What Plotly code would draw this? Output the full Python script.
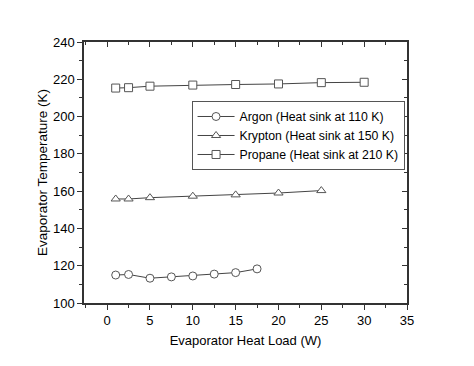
import plotly.graph_objects as go

argon_x = [1, 2.5, 5, 7.5, 10, 12.5, 15, 17.5]
argon_y = [115.0, 115.3, 113.3, 114.0, 114.5, 115.5, 116.3, 118.3]
krypton_x = [1, 2.5, 5, 10, 15, 20, 25]
krypton_y = [155.8, 155.8, 156.5, 157.3, 158.0, 159.0, 160.3]
propane_x = [1, 2.5, 5, 10, 15, 20, 25, 30]
propane_y = [215.3, 215.5, 216.3, 216.9, 217.2, 217.5, 218.2, 218.4]

names = ["Argon (Heat sink at 110 K)", "Krypton (Heat sink at 150 K)", "Propane (Heat sink at 210 K)"]
symbols = ["circle", "triangle-up", "square"]

fig = go.Figure()
for xs, ys, nm, sym in zip([argon_x, krypton_x, propane_x], [argon_y, krypton_y, propane_y], names, symbols):
    fig.add_trace(go.Scatter(
        x=xs, y=ys, name=nm, mode="lines+markers",
        line=dict(color="#444444", width=1),
        marker=dict(symbol=sym, size=8, color="white",
                    line=dict(color="#555555", width=1)),
    ))

axcol = "#333333"
fig.update_layout(
    width=474, height=366,
    margin=dict(l=84, r=67, t=42, b=63),
    paper_bgcolor="white", plot_bgcolor="white",
    font=dict(family="Liberation Sans, Arial", size=12, color="black"),
    showlegend=True,
    legend=dict(x=0.333, y=0.774, xanchor="left", yanchor="top",
                bgcolor="white", bordercolor="#555555", borderwidth=1,
                font=dict(size=12.3), tracegroupgap=0, itemwidth=37),
    xaxis=dict(range=[-2.7, 35], tickvals=[0, 5, 10, 15, 20, 25, 30, 35],
               ticks="outside", ticklen=5, tickwidth=1, tickcolor=axcol,
               minor=dict(dtick=2.5, tick0=0, ticks="outside", ticklen=3, tickcolor=axcol),
               showline=True, linecolor=axcol, linewidth=1.5, mirror=True,
               showgrid=False, zeroline=False, tickfont=dict(size=13),
               title=dict(text="Evaporator Heat Load (W)", standoff=9, font=dict(size=13))),
    yaxis=dict(range=[100, 240], tickvals=[100, 120, 140, 160, 180, 200, 220, 240],
               ticks="outside", ticklen=5, tickwidth=1, tickcolor=axcol,
               minor=dict(dtick=10, tick0=100, ticks="outside", ticklen=3, tickcolor=axcol),
               showline=True, linecolor=axcol, linewidth=1.5, mirror=True,
               showgrid=False, zeroline=False, tickfont=dict(size=13),
               title=dict(text="Evaporator Temperature (K)", standoff=2, font=dict(size=13.5))),
    xaxis2=dict(overlaying="x", side="top", matches="x", range=[-2.7, 35],
                tickvals=[0, 5, 10, 15, 20, 25, 30, 35], ticks="inside", ticklen=5,
                tickcolor=axcol, showticklabels=False, showgrid=False, zeroline=False,
                minor=dict(dtick=2.5, tick0=0, ticks="inside", ticklen=3, tickcolor=axcol)),
    yaxis2=dict(overlaying="y", side="right", range=[100, 240],
                tickvals=[100, 120, 140, 160, 180, 200, 220, 240], ticks="inside", ticklen=5,
                tickcolor=axcol, showticklabels=False, showgrid=False, zeroline=False,
                minor=dict(dtick=10, tick0=100, ticks="inside", ticklen=3, tickcolor=axcol)),
)
fig.add_trace(go.Scatter(x=[None], y=[None], xaxis="x2", yaxis="y2", showlegend=False, hoverinfo="skip"))

fig.write_html("out.html")
